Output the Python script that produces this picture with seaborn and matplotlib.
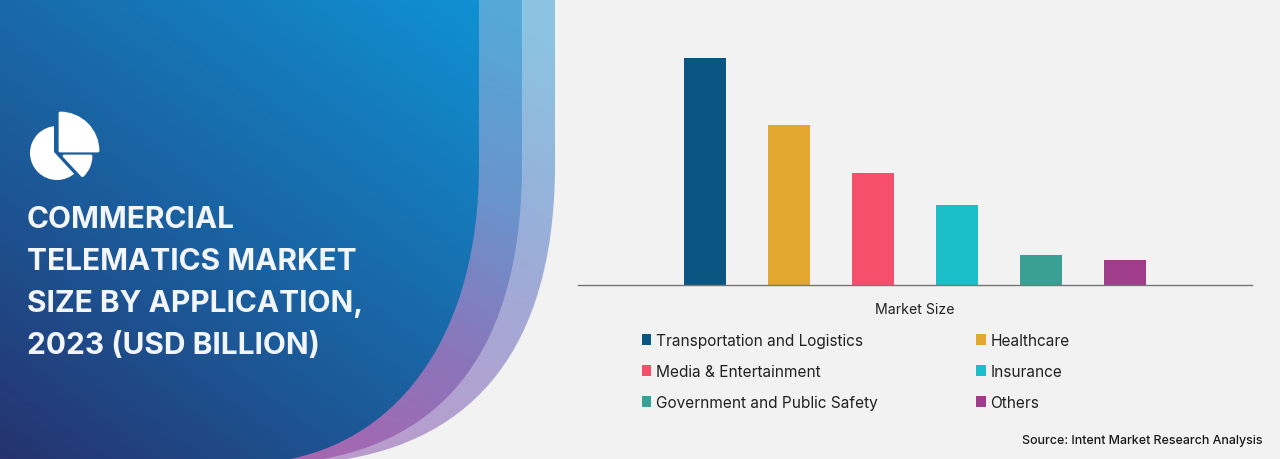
import numpy as np
import pandas as pd
import matplotlib.pyplot as plt
import seaborn as sns
from matplotlib.colors import LinearSegmentedColormap
from matplotlib.patches import Circle, PathPatch, Polygon, Wedge
from matplotlib.path import Path

applications = ['Transportation and Logistics', 'Healthcare', 'Media & Entertainment',
                'Insurance', 'Government and Public Safety', 'Others']
market_size = [227, 160, 112, 80, 30, 25]
bar_colors = ['#0b5583', '#e2a72e', '#f54f6b', '#1bbfc9', '#3a9f95', '#a03d8a']
group_label = ['Market Size'] * 6
title_lines = ['COMMERCIAL', 'TELEMATICS MARKET', 'SIZE BY APPLICATION,', '2023 (USD BILLION)']

sns.set_theme(style='white')
plt.rcParams['font.family'] = ['Inter', 'DejaVu Sans']

fig = plt.figure(figsize=(12.8, 4.6), dpi=100, facecolor='#f2f2f2')

# background banner, in pixels
bg = fig.add_axes([0, 0, 1, 1])
bg.set_xlim(0, 1280)
bg.set_ylim(460, 0)
bg.axis('off')


def banner(top_x, c1, c2, end_x, cmap, t):
    verts = [(0, 0), (top_x, 0), (top_x, 165), c1, c2, (end_x, 460), (0, 460), (0, 0)]
    codes = [Path.MOVETO, Path.LINETO, Path.LINETO, Path.CURVE4, Path.CURVE4, Path.CURVE4,
             Path.LINETO, Path.CLOSEPOLY]
    patch = PathPatch(Path(verts, codes), fc='none', ec='none')
    bg.add_patch(patch)
    im = bg.imshow(t, extent=(0, 1280, 460, 0), cmap=cmap, vmin=0, vmax=1, aspect='auto')
    im.set_clip_path(patch)


xx, yy = np.meshgrid(np.linspace(0, 1280, 320), np.linspace(0, 460, 115))
diag = np.clip((xx * 0.75 + (460 - yy)) / 820, 0, 1)
vert = np.clip((xx * 0.55 + (460 - yy) - 165) / 555, 0, 1)

outer_cmap = LinearSegmentedColormap.from_list('o', ['#bd9acb', '#aea4d2', '#97b0da', '#8cc3e2'])
mid_cmap = LinearSegmentedColormap.from_list('m', ['#a866b0', '#8b75ba', '#6a94cc', '#55a8d8'])
inner_cmap = LinearSegmentedColormap.from_list('i', ['#25336f', '#1d5594', '#1773b3', '#0f91d3'])

banner(555, (555, 330), (490, 435), 347, outer_cmap, vert)
banner(522, (522, 330), (460, 435), 323, mid_cmap, vert)
banner(479, (479, 335), (400, 438), 290, inner_cmap, diag)
bg.set_xlim(0, 1280)
bg.set_ylim(460, 0)

# pie icon
big = Circle((57, 154), 27, fc='white', ec='none')
bg.add_patch(big)
cut = Polygon([(54, 100), (54, 153), (88, 190), (0, 200), (0, 100)], transform=bg.transData)
big.set_clip_path(cut)
bg.add_patch(Wedge((60, 152), 38, -90, 0, fc='white', ec='white', lw=2, joinstyle='round'))
bg.add_patch(Wedge((64, 157), 27, 0, 47, fc='white', ec='white', lw=2, joinstyle='round'))

for line, y in zip(title_lines, [220, 262, 304, 346]):
    bg.text(27, y, line, color='#f2f5fa', fontsize=21.5, fontweight='bold', va='center', ha='left')

bg.text(1262, 441, 'Source: Intent Market Research Analysis', color='#1a1a1a', fontsize=8.95,
        fontweight='medium', va='center', ha='right')

# bars
df = pd.DataFrame({'group': group_label, 'application': applications, 'size': market_size})
ax = fig.add_axes([578 / 1280, (460 - 286) / 460, 674 / 1280, 240 / 460])
ax.patch.set_alpha(0)
sns.barplot(data=df, x='group', y='size', hue='application', hue_order=applications,
            palette=bar_colors, width=0.748, gap=0.5, saturation=1, linewidth=0, ax=ax)
ax.set_xlim(-0.5, 0.5)
ax.set_ylim(0, 240)
ax.set_xlabel('')
ax.set_ylabel('')
ax.set_yticks([])
ax.tick_params(axis='x', length=0, pad=12, labelsize=10.2, labelcolor='#222222')
sns.despine(ax=ax, left=True)
ax.spines['bottom'].set_color('#777777')
ax.spines['bottom'].set_linewidth(1)

handles, labels = ax.get_legend_handles_labels()
order = [0, 2, 4, 1, 3, 5]
ax.legend([handles[i] for i in order], [labels[i] for i in order], ncol=2, frameon=False,
          loc='upper left', bbox_to_anchor=(64 / 674, -48 / 240), borderaxespad=0, borderpad=0,
          fontsize=11.1, labelcolor='#222222', handlelength=0.6, handleheight=0.7,
          handletextpad=0.3, columnspacing=6.4, labelspacing=1.03)

plt.savefig('out.png', dpi=100, facecolor=fig.get_facecolor())
